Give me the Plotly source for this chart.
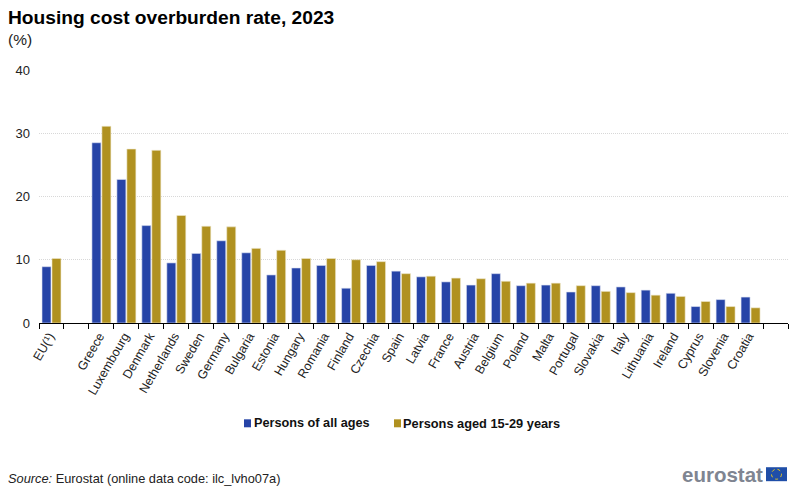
import plotly.graph_objects as go

countries = ["EU(¹)", " ", "Greece", "Luxembourg", "Denmark", "Netherlands", "Sweden", "Germany",
             "Bulgaria", "Estonia", "Hungary", "Romania", "Finland", "Czechia", "Spain", "Latvia",
             "France", "Austria", "Belgium", "Poland", "Malta", "Portugal", "Slovakia", "Italy",
             "Lithuania", "Ireland", "Cyprus", "Slovenia", "Croatia", "  "]
all_ages = [8.9, None, 28.5, 22.7, 15.4, 9.5, 11.0, 13.0, 11.1, 7.6, 8.7, 9.1, 5.5, 9.1, 8.2, 7.3,
            6.5, 6.0, 7.8, 5.9, 6.0, 4.9, 5.9, 5.7, 5.2, 4.7, 2.6, 3.7, 4.1, None]
aged_15_29 = [10.2, None, 31.1, 27.5, 27.3, 17.0, 15.3, 15.2, 11.8, 11.5, 10.2, 10.2, 10.0, 9.7, 7.8, 7.4,
              7.1, 7.0, 6.6, 6.3, 6.3, 5.9, 5.0, 4.8, 4.4, 4.2, 3.4, 2.6, 2.4, None]
y_ticks = [0, 10, 20, 30, 40]

BLUE = "#2644A7"
GOLD = "#B09120"
FONT = "Liberation Sans"
W, H = 800, 490
# plot area in page pixels
LEFT, RIGHT, TOP, BOTTOM = 39, 788, 70, 323.5


def px(x):
    return (x - LEFT) / (RIGHT - LEFT)


def py(y):
    return (BOTTOM - y) / (BOTTOM - TOP)


def note(text, x, y, size, anchor="left", color="#222222"):
    fig.add_annotation(text=text, xref="paper", yref="paper", x=px(x), y=py(y),
                       xanchor=anchor, yanchor="middle", showarrow=False,
                       font=dict(size=size, color=color))


def box(x0, x1, y0, y1, color):
    fig.add_shape(type="rect", xref="paper", yref="paper", x0=px(x0), x1=px(x1),
                  y0=py(y1), y1=py(y0), fillcolor=color, line_width=0)


fig = go.Figure()
fig.add_trace(go.Bar(x=countries, y=all_ages, name="Persons of all ages", marker_color=BLUE,
                     marker_line=dict(color="#DDE2F2", width=0.6)))
fig.add_trace(go.Bar(x=countries, y=aged_15_29, name="Persons aged 15-29 years", marker_color=GOLD,
                     marker_line=dict(color="#EFE8CC", width=0.6)))

fig.update_layout(
    width=W, height=H,
    autosize=False,
    margin=dict(l=LEFT, r=W - RIGHT, t=TOP, b=H - BOTTOM, autoexpand=False),
    paper_bgcolor="white", plot_bgcolor="white",
    font=dict(family=FONT, size=13, color="#222222"),
    barmode="group", bargap=0.2, bargroupgap=0.1,
    showlegend=False,
    title=dict(text="<b>Housing cost overburden rate, 2023</b>", x=8 / W, xanchor="left",
               y=1 - 17 / H, yanchor="middle", font=dict(size=19.2, color="black")),
)
fig.update_xaxes(type="category", categoryorder="array", categoryarray=countries, tickson="boundaries",
                 ticks="outside", ticklen=5, tickcolor="black", tickwidth=1,
                 showline=True, linecolor="black", linewidth=1, showgrid=False,
                 tickangle=-60, tickfont=dict(size=12.5), ticklabelshift=-2)
fig.update_yaxes(range=[0, 40], tickvals=y_ticks, showline=False, zeroline=False,
                 showgrid=True, gridcolor="#D8D8D8", griddash="1px,1px", gridwidth=1,
                 ticks="", tickfont=dict(size=13), ticklabelstandoff=8)

note("(%)", 6, 39, 15.5)
note("<i>Source:</i> Eurostat (online data code: ilc_lvho07a)", 6, 479, 12.8)

# legend drawn by hand, plotly keeps a wide gap between marker and text
box(244, 251, 420, 428, BLUE)
note("<b>Persons of all ages</b>", 252, 424, 12.7, color="#111111")
box(394, 401, 420, 428, GOLD)
note("<b>Persons aged 15-29 years</b>", 401, 424, 12.8, color="#111111")

# eurostat logo
note("<b>eurostat</b>", 765, 475, 20.5, anchor="right", color="#7F8591")
box(766, 787, 468, 482, "#1F4EA8")
fig.add_shape(type="circle", xref="paper", yref="paper", x0=px(771.5), x1=px(781.5),
              y0=py(480), y1=py(470), line=dict(color="#E8C820", width=1, dash="dot"))

fig.write_html("out.html", config={"displayModeBar": False},
               post_script="document.body.style.margin = '0';")
